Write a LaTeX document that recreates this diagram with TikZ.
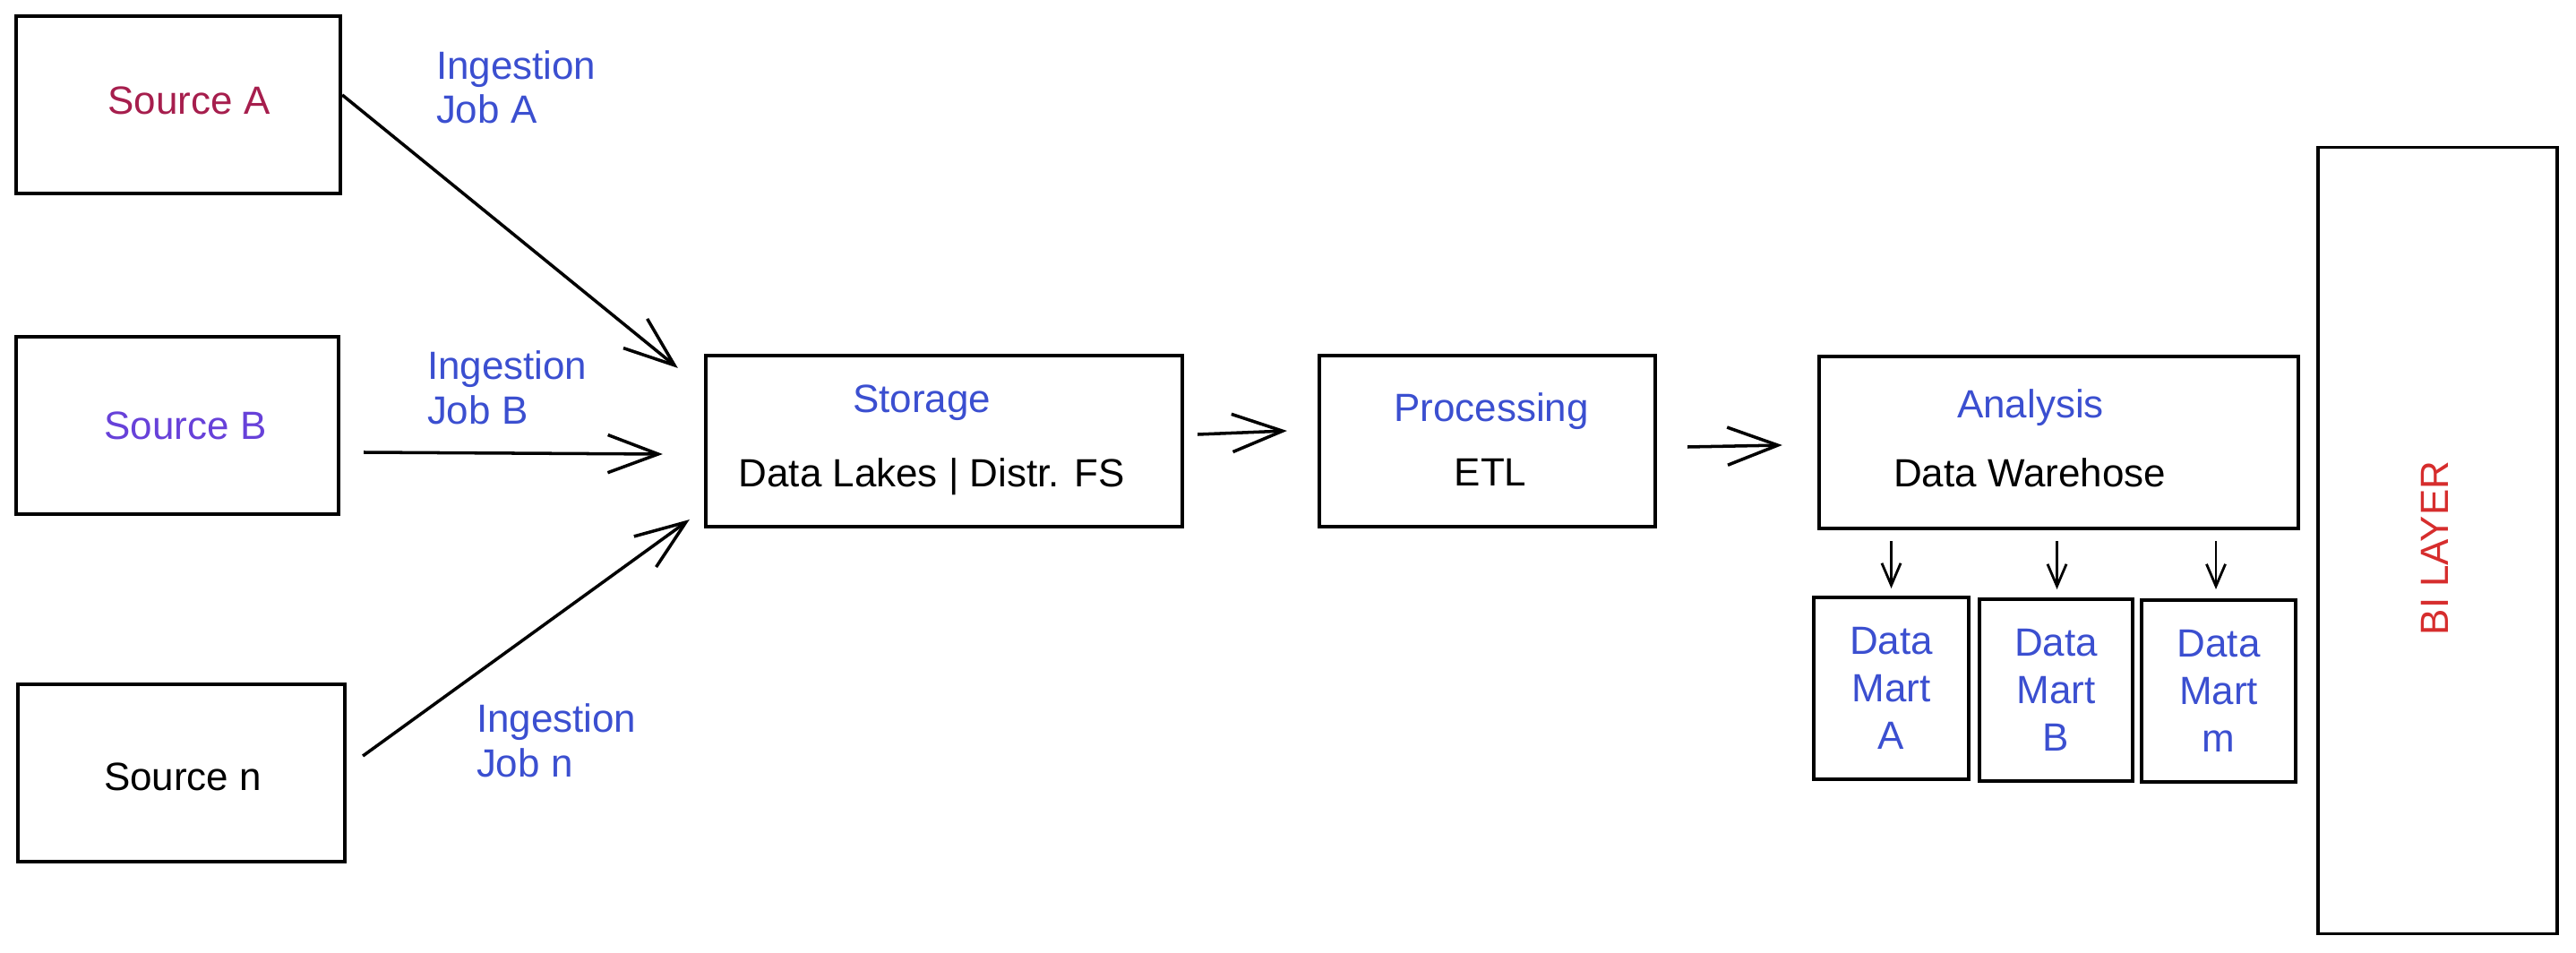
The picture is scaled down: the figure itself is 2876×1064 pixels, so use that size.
\documentclass[tikz,border=0pt]{standalone}
\usepackage{fontspec}
\setmainfont{Liberation Sans}
\usetikzlibrary{arrows.meta,calc}
\definecolor{inkblue}{RGB}{59,79,208}
\definecolor{crimsonT}{RGB}{166,30,77}
\definecolor{violetT}{RGB}{103,65,217}
\definecolor{redT}{RGB}{214,45,45}
\begin{document}
\begin{tikzpicture}[x=0.01cm,y=-0.01cm,
  box/.style={draw, line width=1pt, inner sep=0pt, outer sep=0pt},
  lbl/.style={font=\fontsize{12.5}{15}\selectfont, inner sep=0pt, outer sep=0pt},
  ing/.style={lbl, font=\fontsize{12.5}{14.2}\selectfont, text=inkblue, align=left, anchor=base west},
  conn/.style={line width=1pt, -{Straight Barb[length=16pt,width=12pt,line width=1pt]}},
  tickarr/.style={line width=0.8pt, -{Straight Barb[length=7pt,width=6pt,line width=0.8pt]}}]
\useasboundingbox (0,0) rectangle (2876,1064);

% sources
\node[box, minimum width=3.62cm, minimum height=1.98cm] (srcA) at (199,117) {};
\node[box, minimum width=3.60cm, minimum height=1.98cm] (srcB) at (198,475) {};
\node[box, minimum width=3.65cm, minimum height=1.98cm] (srcn) at (202.5,863) {};
\node[lbl, text=crimsonT, anchor=base] (tA) at (211,128) {Source A};
\node[lbl, text=violetT, anchor=base] (tB) at (207,490) {Source B};
\node[lbl, anchor=base] (tn) at (204,882) {Source n};

% ingestion labels (anchor base = baseline of the last line)
\node[ing] (ingA) at (487,138) {Ingestion\\Job A};
\node[ing] (ingB) at (477,473) {Ingestion\\Job B};
\node[ing] (ingn) at (532,867) {Ingestion\\Job n};

% pipeline boxes
\node[box, minimum width=5.32cm, minimum height=1.91cm] (stor) at (1054,492.5) {};
\node[lbl, text=inkblue, anchor=base] (storT) at (1029,460) {Storage};
\node[lbl, anchor=base] (storS) at (1040,543) {Data Lakes | Distr. FS};

\node[box, minimum width=3.75cm, minimum height=1.91cm] (proc) at (1660.5,492.5) {};
\node[lbl, text=inkblue, anchor=base] (procT) at (1665,470) {Processing};
\node[lbl, anchor=base] (procS) at (1664,542) {ETL};

\node[box, minimum width=5.35cm, minimum height=1.92cm] (ana) at (2298.5,494) {};
\node[lbl, text=inkblue, anchor=base] (anaT) at (2267,466) {Analysis};
\node[lbl, anchor=base] (anaS) at (2266,543) {Data Warehose};

% data marts
\node[box, lbl, minimum width=1.73cm, minimum height=2.03cm, text=inkblue, align=center] (martA) at (2111.5,768.5) {Data\\Mart\\A};
\node[box, lbl, minimum width=1.71cm, minimum height=2.03cm, text=inkblue, align=center] (martB) at (2295.5,770.5) {Data\\Mart\\B};
\node[box, lbl, minimum width=1.72cm, minimum height=2.03cm, text=inkblue, align=center] (martm) at (2477,771.5) {Data\\Mart\\m};

% BI layer
\node[box, minimum width=2.67cm, minimum height=8.77cm] (bi) at (2721.5,603.5) {};
\node[lbl, text=redT, rotate=90] (biT) at (2718,612) {BI LAYER};

% connectors
\draw[conn] ($(srcA.east)+(2,-11)$) -- ($(stor.north west)+(-31,14)$);
\draw[conn] ($(srcB.east)+(28,30)$) -- ($(stor.west)+(-48,14.5)$);
\draw[conn] ($(srcn.east)+(20,-19)$) -- ($(stor.south west)+(-18,-8)$);
\draw[conn] ($(stor.east)+(17,-7.5)$) -- ($(proc.west)+(-36,-11.5)$);
\draw[conn] ($(proc.east)+(36,6.5)$) -- ($(ana.west)+(-41,3)$);
\draw[tickarr] ($(ana.south -| martA.north)+(0,14)$) -- ($(martA.north)+(0,-10)$);
\draw[tickarr] ($(ana.south -| martB.north)+(1,14)$) -- ($(martB.north)+(1,-11)$);
\draw[tickarr] ($(ana.south -| martm.north)+(-3,14)$) -- ($(martm.north)+(-3,-12)$);
\end{tikzpicture}
\end{document}
